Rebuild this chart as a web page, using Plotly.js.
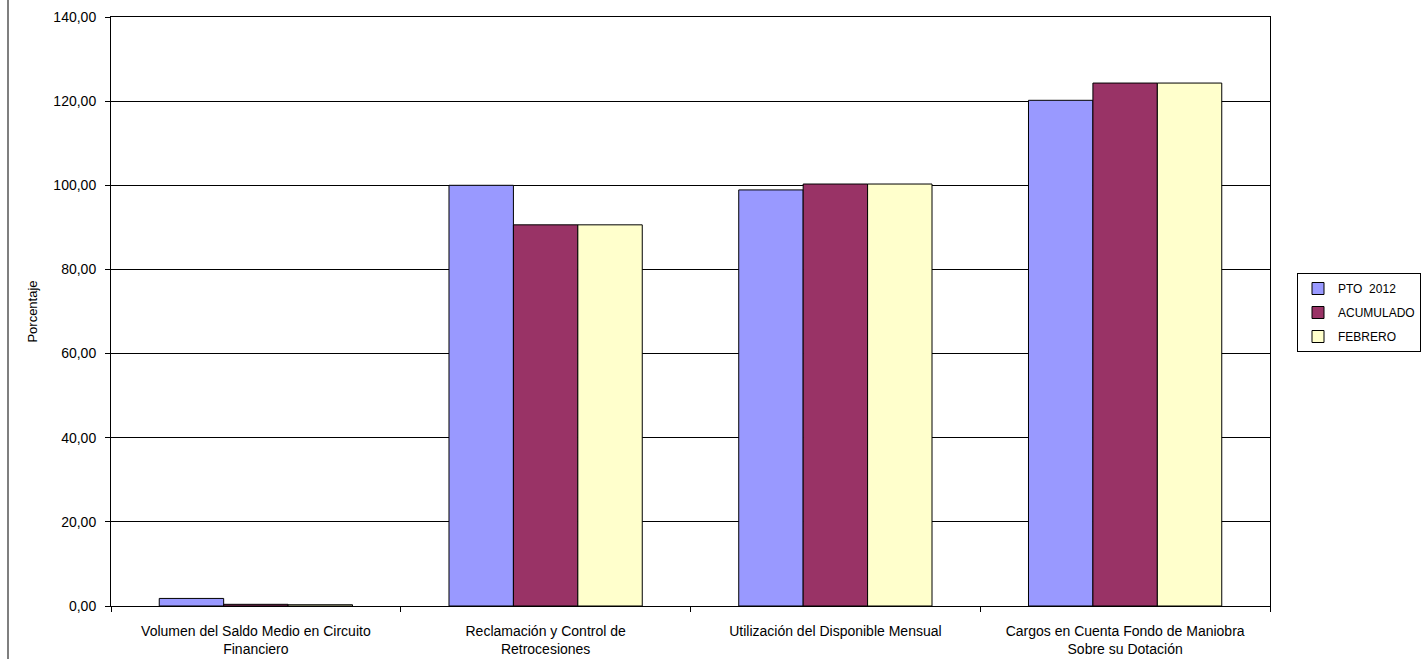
<!DOCTYPE html>
<html>
<head>
<meta charset="utf-8">
<script src="https://cdn.plot.ly/plotly-3.0.1.min.js"></script>
<style>
html,body{margin:0;padding:0;background:#fff;}
#chart{width:1427px;height:659px;}
</style>
</head>
<body>
<div id="chart"></div>
<script>
const categories = [
  "Volumen del Saldo Medio en Circuito<br>Financiero",
  "Reclamación y Control de<br>Retrocesiones",
  "Utilización del Disponible Mensual",
  "Cargos en Cuenta Fondo de Maniobra<br>Sobre su Dotación"
];
const seriesNames = ["PTO  2012", "ACUMULADO", "FEBRERO"];
const pto2012 = [1.8, 100.0, 98.9, 120.2];
const acumulado = [0.4, 90.6, 100.3, 124.3];
const febrero = [0.3, 90.6, 100.3, 124.3];
const colors = ["#9999FF", "#993366", "#FFFFCC"];
const yTicks = [0, 20, 40, 60, 80, 100, 120, 140];

const seriesValues = [pto2012, acumulado, febrero];
const traces = seriesValues.map((vals, i) => ({
  type: "bar",
  name: seriesNames[i],
  legendgroup: "g" + i,
  x: categories,
  y: vals,
  marker: {color: colors[i], line: {color: "#000000", width: 1}},
  hoverinfo: "x+y+name"
}));

const L = 111, R = 1270, T = 17, B = 606, W = 1427, H = 659;
const pw = R - L, ph = B - T;

const layout = {
  width: W, height: H,
  margin: {l: L, r: W - R, t: T, b: H - B, pad: 0, autoexpand: false},
  paper_bgcolor: "#ffffff",
  plot_bgcolor: "#ffffff",
  barmode: "group",
  bargap: 0.333,
  bargroupgap: 0,
  separators: ",.",
  font: {family: "Arial, 'Liberation Sans', sans-serif", size: 14, color: "#000000"},
  showlegend: true,
  legend: {
    x: (1297 - L) / pw, y: (B - 273) / ph,
    xanchor: "left", yanchor: "top",
    bordercolor: "#000000", borderwidth: 1,
    bgcolor: "#ffffff",
    font: {size: 12, color: "#000000"},
    itemwidth: 30,
    traceorder: "grouped",
    tracegroupgap: 5
  },
  xaxis: {
    type: "category",
    tickson: "boundaries",
    ticks: "outside", ticklen: 5, tickcolor: "#000000", tickwidth: 1,
    showline: true, linecolor: "#000000", linewidth: 1, mirror: true,
    showgrid: false, zeroline: false,
    ticklabelstandoff: 12,
    tickfont: {size: 14, color: "#000000"},
    automargin: false
  },
  yaxis: {
    range: [0, 140],
    tickvals: yTicks,
    tickformat: ".2f",
    ticks: "outside", ticklen: 5, tickcolor: "#000000", tickwidth: 1,
    showline: true, linecolor: "#000000", linewidth: 1, mirror: true,
    showgrid: true, gridcolor: "#000000", gridwidth: 1,
    zeroline: false,
    ticklabelstandoff: 6,
    tickfont: {size: 14, color: "#000000"},
    title: {text: "Porcentaje", font: {size: 13, color: "#000000"}, standoff: 12},
    automargin: false
  },
  shapes: [{
    type: "line", xref: "paper", yref: "paper",
    x0: (8 - L) / pw, x1: (8 - L) / pw,
    y0: (B - H - 5) / ph, y1: (B + 5) / ph,
    line: {color: "#555555", width: 1.5}
  }]
};

Plotly.newPlot("chart", traces, layout, {displayModeBar: false, staticPlot: true});
</script>
</body>
</html>
